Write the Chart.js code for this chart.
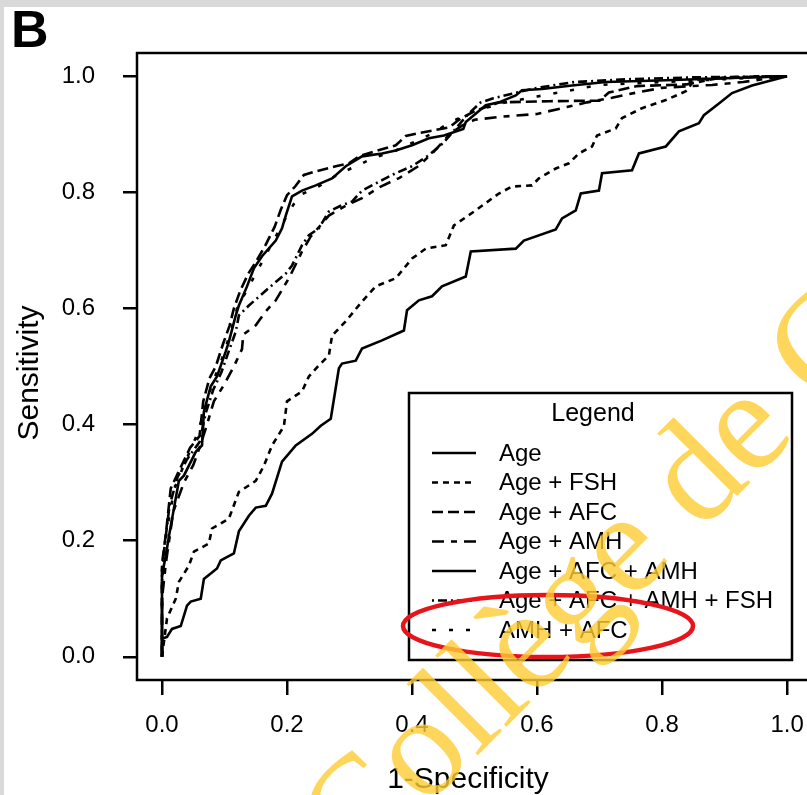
<!DOCTYPE html>
<html>
<head>
<meta charset="utf-8">
<script src="https://cdn.jsdelivr.net/npm/chart.js@4"></script>
<style>
  html, body { margin: 0; padding: 0; overflow: hidden; background: #d9d9d9; }
  #paper { position: absolute; left: 4px; top: 7px; width: 820px; height: 800px; background: #fff; }
  #roc { position: absolute; left: 0; top: 0; }
</style>
</head>
<body>
<div id="paper"></div>
<canvas id="roc" width="820" height="795"></canvas>
<script>
// ROC curves as [1-specificity, sensitivity]
const seriesNames = ['Age', 'Age + FSH', 'Age + AFC', 'Age + AMH', 'Age + AFC + AMH', 'Age + AFC + AMH + FSH', 'AMH + AFC'];
const tickValues = [0, 0.2, 0.4, 0.6, 0.8, 1.0];

const age = [[0,0],[0,0.031],[0.008,0.034],[0.016,0.048],[0.030,0.053],[0.040,0.088],[0.046,0.095],[0.062,0.100],[0.067,0.134],[0.088,0.152],[0.094,0.166],[0.115,0.178],[0.123,0.216],[0.139,0.243],[0.150,0.257],[0.166,0.260],[0.176,0.281],[0.192,0.336],[0.214,0.364],[0.240,0.384],[0.254,0.398],[0.270,0.410],[0.283,0.497],[0.288,0.505],[0.310,0.510],[0.320,0.531],[0.352,0.545],[0.387,0.562],[0.392,0.597],[0.411,0.614],[0.432,0.621],[0.448,0.638],[0.486,0.655],[0.494,0.698],[0.566,0.703],[0.579,0.717],[0.630,0.736],[0.640,0.755],[0.662,0.769],[0.670,0.798],[0.699,0.803],[0.704,0.833],[0.752,0.838],[0.763,0.867],[0.806,0.879],[0.827,0.905],[0.859,0.919],[0.867,0.933],[0.891,0.953],[0.912,0.971],[0.944,0.984],[1,1]];

const ageFsh = [[0,0],[0.008,0.066],[0.022,0.100],[0.027,0.129],[0.043,0.157],[0.051,0.181],[0.075,0.195],[0.080,0.221],[0.107,0.238],[0.123,0.284],[0.150,0.303],[0.163,0.329],[0.176,0.364],[0.195,0.397],[0.200,0.440],[0.224,0.457],[0.235,0.483],[0.251,0.502],[0.267,0.519],[0.272,0.553],[0.294,0.578],[0.320,0.612],[0.342,0.638],[0.374,0.652],[0.400,0.686],[0.422,0.703],[0.454,0.709],[0.467,0.743],[0.502,0.769],[0.539,0.798],[0.560,0.810],[0.592,0.812],[0.603,0.824],[0.630,0.841],[0.651,0.850],[0.667,0.867],[0.688,0.879],[0.696,0.898],[0.726,0.910],[0.736,0.928],[0.768,0.945],[0.806,0.959],[0.838,0.974],[0.848,0.988],[0.891,0.997],[0.955,1.0],[1,1]];

const ageAfc = [[0,0],[0,0.16],[0.006,0.21],[0.014,0.29],[0.027,0.32],[0.045,0.36],[0.060,0.38],[0.066,0.44],[0.076,0.48],[0.086,0.50],[0.098,0.54],[0.108,0.57],[0.115,0.60],[0.125,0.63],[0.138,0.66],[0.150,0.68],[0.166,0.71],[0.180,0.74],[0.190,0.77],[0.200,0.795],[0.213,0.81],[0.227,0.83],[0.246,0.836],[0.278,0.845],[0.299,0.85],[0.315,0.862],[0.342,0.871],[0.374,0.881],[0.390,0.897],[0.411,0.902],[0.435,0.907],[0.460,0.912],[0.475,0.925],[0.500,0.94],[0.540,0.955],[0.620,0.957],[0.700,0.958],[0.715,0.972],[0.760,0.983],[0.840,0.986],[0.860,0.995],[0.930,0.998],[1,1]];

const ageAmh = [[0,0],[0,0.10],[0.006,0.16],[0.018,0.25],[0.035,0.30],[0.050,0.33],[0.060,0.36],[0.072,0.40],[0.083,0.44],[0.100,0.47],[0.115,0.50],[0.128,0.53],[0.130,0.555],[0.150,0.571],[0.166,0.595],[0.182,0.614],[0.203,0.652],[0.224,0.698],[0.238,0.724],[0.267,0.76],[0.294,0.777],[0.320,0.79],[0.350,0.81],[0.380,0.825],[0.410,0.845],[0.435,0.87],[0.460,0.90],[0.480,0.915],[0.500,0.925],[0.540,0.93],[0.600,0.935],[0.640,0.945],[0.680,0.955],[0.720,0.963],[0.760,0.972],[0.800,0.98],[0.880,0.985],[0.930,0.99],[0.980,0.998],[1,1]];

const ageAfcAmh = [[0,0],[0,0.140],[0.006,0.174],[0.011,0.207],[0.027,0.303],[0.035,0.312],[0.054,0.353],[0.064,0.364],[0.067,0.422],[0.078,0.466],[0.088,0.483],[0.102,0.526],[0.107,0.543],[0.118,0.588],[0.123,0.605],[0.136,0.638],[0.147,0.669],[0.160,0.690],[0.182,0.717],[0.192,0.738],[0.198,0.760],[0.208,0.793],[0.224,0.803],[0.246,0.812],[0.272,0.824],[0.294,0.845],[0.320,0.862],[0.352,0.867],[0.374,0.872],[0.400,0.881],[0.427,0.893],[0.451,0.898],[0.482,0.909],[0.486,0.921],[0.518,0.950],[0.539,0.955],[0.566,0.967],[0.576,0.976],[0.608,0.978],[0.656,0.984],[0.710,0.990],[0.806,0.993],[0.912,0.997],[1,1]];

const ageAfcAmhFsh = [[0,0],[0,0.13],[0.004,0.19],[0.012,0.26],[0.025,0.31],[0.040,0.34],[0.060,0.37],[0.070,0.42],[0.082,0.46],[0.095,0.49],[0.108,0.53],[0.118,0.56],[0.123,0.588],[0.139,0.605],[0.160,0.625],[0.176,0.64],[0.198,0.66],[0.208,0.674],[0.224,0.709],[0.235,0.726],[0.251,0.738],[0.267,0.767],[0.288,0.778],[0.304,0.784],[0.320,0.803],[0.352,0.821],[0.374,0.833],[0.400,0.845],[0.427,0.864],[0.450,0.885],[0.470,0.91],[0.490,0.935],[0.510,0.955],[0.530,0.962],[0.560,0.97],[0.600,0.98],[0.660,0.99],[0.750,0.995],[0.850,0.998],[1,1]];

const amhAfc = [[0,0],[0,0.15],[0.008,0.22],[0.020,0.29],[0.035,0.33],[0.055,0.38],[0.070,0.43],[0.080,0.47],[0.095,0.51],[0.110,0.56],[0.120,0.60],[0.135,0.63],[0.150,0.66],[0.170,0.70],[0.190,0.74],[0.205,0.77],[0.220,0.795],[0.250,0.81],[0.280,0.83],[0.310,0.845],[0.340,0.86],[0.370,0.87],[0.400,0.885],[0.430,0.90],[0.460,0.92],[0.500,0.94],[0.550,0.955],[0.600,0.965],[0.650,0.975],[0.700,0.985],[0.800,0.99],[0.900,0.995],[1,1]];

const curves = [age, ageFsh, ageAfc, ageAmh, ageAfcAmh, ageAfcAmhFsh, amhAfc];
const dashes = [[], [6, 5], [11, 5], [12, 7, 6, 7], [], [2, 4, 9, 4], [4, 13]];

const frame = {
  id: 'frame',
  beforeDraw(chart) {
    const a = chart.chartArea, ctx = chart.ctx;
    ctx.save();
    ctx.strokeStyle = '#000';
    ctx.lineWidth = 2.5;
    ctx.strokeRect(a.left, a.top, a.right - a.left, a.bottom - a.top);
    ctx.restore();
  },
  afterDraw(chart) {
    const ctx = chart.ctx;
    ctx.save();
    ctx.fillStyle = '#000';
    // panel letter
    ctx.font = 'bold 52px "Liberation Sans", Arial';
    ctx.textBaseline = 'alphabetic';
    ctx.fillText('B', 11, 47);
    // axis titles
    ctx.font = '30px "Liberation Sans", Arial';
    ctx.textAlign = 'center';
    ctx.textBaseline = 'middle';
    ctx.fillText('1-Specificity', 468, 780);
    ctx.save();
    ctx.translate(30, 373);
    ctx.rotate(-Math.PI / 2);
    ctx.fillText('Sensitivity', 0, 0);
    ctx.restore();

    // legend box
    ctx.lineWidth = 2.5;
    ctx.strokeStyle = '#000';
    ctx.strokeRect(409, 393, 383, 267);
    ctx.font = '25px "Liberation Sans", Arial';
    ctx.fillText('Legend', 593, 414);
    ctx.font = '24px "Liberation Sans", Arial';
    ctx.textAlign = 'left';
    chart.data.datasets.forEach((ds, i) => {
      const y = 453 + i * 29.5;
      ctx.setLineDash(ds.borderDash);
      ctx.lineWidth = 2.5;
      ctx.beginPath();
      ctx.moveTo(432, y);
      ctx.lineTo(476, y);
      ctx.stroke();
      ctx.setLineDash([]);
      ctx.fillText(ds.label, 499, y + 1);
    });

    // red highlight
    ctx.strokeStyle = '#e8141c';
    ctx.lineWidth = 4.5;
    ctx.beginPath();
    ctx.ellipse(548, 626, 145, 31, 0, 0, Math.PI * 2);
    ctx.stroke();

    // watermark
    ctx.fillStyle = 'rgba(255, 204, 51, 0.8)';
    ctx.font = '145px "Liberation Serif", "DejaVu Serif", serif';
    ctx.textAlign = 'left';
    ctx.textBaseline = 'alphabetic';
    ctx.translate(356, 877);
    ctx.rotate(-Math.PI / 4);
    ctx.fillText('Collège de C', 0, 0);
    ctx.restore();
  }
};

new Chart(document.getElementById('roc').getContext('2d'), {
  type: 'line',
  data: {
    datasets: curves.map((c, i) => ({
      label: seriesNames[i],
      data: c.map(p => ({ x: p[0], y: p[1] })),
      borderColor: '#000',
      borderWidth: 2.6,
      borderDash: dashes[i],
      fill: false,
      pointRadius: 0,
      tension: 0
    }))
  },
  options: {
    responsive: false,
    animation: false,
    layout: { padding: { left: 0, top: 53, right: 7, bottom: 0 } },
    plugins: { legend: { display: false }, tooltip: { enabled: false } },
    scales: {
      x: {
        type: 'linear',
        min: -0.04,
        max: 1.04,
        afterBuildTicks: s => { s.ticks = tickValues.map(v => ({ value: v })); },
        afterFit: s => { s.height = 115; },
        ticks: { color: '#000', font: { size: 24, family: '"Liberation Sans", Arial' }, padding: 16, maxRotation: 0, callback: v => v.toFixed(1) },
        grid: { drawOnChartArea: false, drawTicks: true, tickLength: 15, color: '#000', lineWidth: 2.5 },
        border: { display: false }
      },
      y: {
        type: 'linear',
        min: -0.04,
        max: 1.04,
        afterBuildTicks: s => { s.ticks = tickValues.map(v => ({ value: v })); },
        afterFit: s => { s.width = 137; },
        ticks: { color: '#000', font: { size: 24, family: '"Liberation Sans", Arial' }, padding: 28, callback: v => v.toFixed(1) },
        grid: { drawOnChartArea: false, drawTicks: true, tickLength: 14, color: '#000', lineWidth: 2.5 },
        border: { display: false }
      }
    }
  },
  plugins: [frame]
});
</script>
</body>
</html>
